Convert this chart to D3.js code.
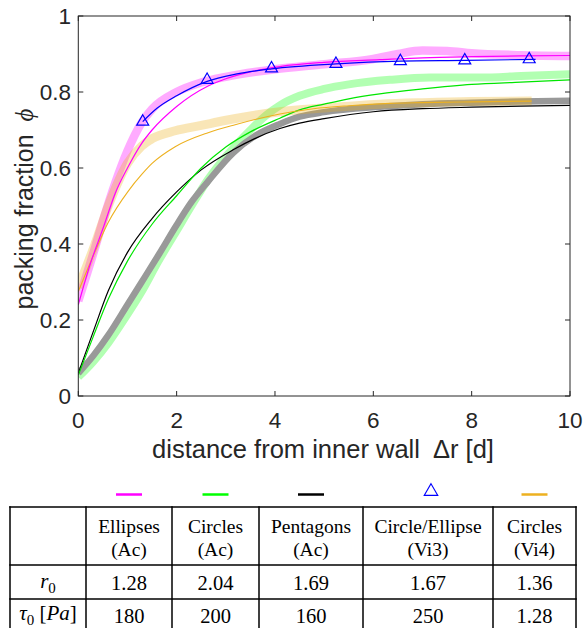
<!DOCTYPE html>
<html>
<head>
<meta charset="utf-8">
<script src="https://cdn.jsdelivr.net/npm/d3@7/dist/d3.min.js"></script>
<style>
  html, body { margin: 0; padding: 0; background: #fff; }
  svg { display: block; }
</style>
</head>
<body>
<svg id="chart" width="587" height="628"></svg>
<script>
// Axis ticks
const xTicks = [0, 2, 4, 6, 8, 10];
const yTicks = [0, 0.2, 0.4, 0.6, 0.8, 1];

// Measured profiles (wide translucent bands)
const ellipsesDataX = [0, 0.34, 0.5, 0.75, 1.0, 1.29, 1.5, 2.0, 2.5, 3.0, 4.0, 5.0, 6.0, 6.5, 7.0, 7.5, 8.0, 9.0, 10];
const ellipsesDataY = [0.25, 0.39, 0.46, 0.56, 0.645, 0.72, 0.755, 0.80, 0.825, 0.84, 0.86, 0.873, 0.887, 0.90, 0.909, 0.908, 0.902, 0.897, 0.895];

const circlesDataX = [0, 0.3, 0.61, 1.0, 1.29, 1.63, 2.0, 2.3, 2.64, 3.0, 3.5, 3.83, 4.1, 4.5, 5.0, 5.5, 6.34, 7.15, 8.17, 9.0, 10];
const circlesDataY = [0.05, 0.09, 0.14, 0.215, 0.275, 0.355, 0.435, 0.50, 0.57, 0.63, 0.70, 0.74, 0.765, 0.79, 0.808, 0.82, 0.832, 0.838, 0.838, 0.842, 0.847];

const pentagonsDataX = [0, 0.3, 0.61, 1.0, 1.29, 1.65, 2.0, 2.3, 2.64, 3.15, 3.6, 4.1, 4.5, 5.0, 6.13, 7.0, 8.0, 9.0, 10];
const pentagonsDataY = [0.06, 0.105, 0.16, 0.24, 0.30, 0.375, 0.45, 0.51, 0.565, 0.64, 0.685, 0.716, 0.735, 0.747, 0.761, 0.768, 0.772, 0.775, 0.777];

const vi4DataX = [0, 0.34, 0.61, 1.0, 1.29, 1.5, 1.97, 2.5, 2.98, 3.5, 4.1, 5.0, 6.13, 7.0, 8.0, 9.22];
const vi4DataY = [0.285, 0.40, 0.50, 0.612, 0.658, 0.677, 0.698, 0.712, 0.725, 0.737, 0.748, 0.758, 0.768, 0.772, 0.775, 0.776];

// Model fits (thin lines)
const ellipsesFitX = [0, 0.25, 0.5, 0.75, 1.0, 1.29, 1.5, 2.0, 2.64, 3.0, 3.5, 4.1, 5.0, 6.13, 7.0, 8.0, 9.0, 10];
const ellipsesFitY = [0.24, 0.35, 0.44, 0.533, 0.60, 0.665, 0.70, 0.762, 0.816, 0.835, 0.853, 0.867, 0.878, 0.885, 0.89, 0.893, 0.895, 0.896];

const circlesFitX = [0, 0.3, 0.61, 1.0, 1.5, 2.0, 2.5, 3.0, 3.5, 4.1, 4.5, 5.0, 5.5, 6.13, 7.0, 8.0, 9.0, 10];
const circlesFitY = [0.055, 0.155, 0.255, 0.355, 0.452, 0.527, 0.60, 0.655, 0.695, 0.731, 0.753, 0.768, 0.782, 0.795, 0.808, 0.82, 0.826, 0.832];

const pentagonsFitX = [0, 0.3, 0.61, 1.0, 1.5, 2.0, 2.5, 3.15, 4.1, 4.5, 5.0, 6.0, 7.0, 8.0, 9.0, 10];
const pentagonsFitY = [0.06, 0.168, 0.277, 0.378, 0.467, 0.537, 0.595, 0.648, 0.704, 0.718, 0.73, 0.748, 0.756, 0.76, 0.763, 0.765];

const vi4FitX = [0, 0.34, 0.61, 1.02, 1.29, 1.5, 1.97, 2.64, 3.19, 4.1, 4.78, 5.5, 6.34, 7.0, 8.0, 9.22];
const vi4FitY = [0.275, 0.38, 0.457, 0.54, 0.583, 0.612, 0.656, 0.693, 0.714, 0.742, 0.756, 0.764, 0.77, 0.772, 0.774, 0.776];

// Circle/Ellipse (Vi3): measured points and fitted curve
const vi3PointsX = [1.31, 2.62, 3.93, 5.24, 6.55, 7.86, 9.17];
const vi3PointsY = [0.722, 0.832, 0.862, 0.874, 0.881, 0.883, 0.886];
const vi3FitX = [1.31, 1.6, 2.0, 2.62, 3.2, 3.93, 5.24, 6.55, 7.86, 9.3];
const vi3FitY = [0.722, 0.757, 0.79, 0.828, 0.847, 0.861, 0.874, 0.881, 0.883, 0.886];

// Parameter table
const tableColumns = [["Ellipses", "(Ac)"], ["Circles", "(Ac)"], ["Pentagons", "(Ac)"], ["Circle/Ellipse", "(Vi3)"], ["Circles", "(Vi4)"]];
const r0Values = ["1.28", "2.04", "1.69", "1.67", "1.36"];
const tau0Values = ["180", "200", "160", "250", "1.28"];

const svg = d3.select("#chart");
const axisColor = "#262626";
const sans = "'Liberation Sans', Arial, Helvetica, sans-serif";
const serif = "'Liberation Serif', 'Times New Roman', serif";

const plot = { left: 78.3, right: 570, top: 16, bottom: 396 };
const x = d3.scaleLinear().domain([0, 10]).range([plot.left, plot.right]);
const y = d3.scaleLinear().domain([0, 1]).range([plot.bottom, plot.top]);

svg.append("defs").append("clipPath").attr("id", "plotClip")
  .append("rect")
  .attr("x", plot.left).attr("y", plot.top)
  .attr("width", plot.right - plot.left).attr("height", plot.bottom - plot.top);

const zip = (xs, ys) => xs.map((v, i) => [v, ys[i]]);
const line = d3.line().x(d => x(d[0])).y(d => y(d[1])).curve(d3.curveMonotoneX);

const g = svg.append("g").attr("clip-path", "url(#plotClip)");

function band(xs, ys, color, width, opacity) {
  g.append("path").datum(zip(xs, ys))
    .attr("d", line).attr("fill", "none")
    .attr("stroke", color).attr("stroke-width", width)
    .attr("stroke-opacity", opacity)
    .attr("stroke-linecap", "butt").attr("stroke-linejoin", "round");
}
function fit(xs, ys, color, width) {
  g.append("path").datum(zip(xs, ys))
    .attr("d", line).attr("fill", "none")
    .attr("stroke", color).attr("stroke-width", width);
}

// Bands
band(circlesDataX, circlesDataY, "#00ff00", 8, 0.3);
band(pentagonsDataX, pentagonsDataY, "#999999", 6.5, 1);
band(ellipsesDataX, ellipsesDataY, "#ff00ff", 8.5, 0.33);
band(vi4DataX, vi4DataY, "#edb120", 9, 0.32);

// Fits
fit(pentagonsFitX, pentagonsFitY, "#000000", 1.2);
fit(circlesFitX, circlesFitY, "#00e600", 1.2);
fit(vi4FitX, vi4FitY, "#edb120", 1.1);
fit(ellipsesFitX, ellipsesFitY, "#ff00ff", 1.2);
fit(vi3FitX, vi3FitY, "#0000ff", 1.2);

// Vi3 triangles
const tri = d3.symbol().type(d3.symbolTriangle).size(62);
svg.append("g").selectAll("path").data(zip(vi3PointsX, vi3PointsY)).join("path")
  .attr("d", tri)
  .attr("transform", d => `translate(${x(d[0])},${y(d[1])})`)
  .attr("fill", "none").attr("stroke", "#0000ff").attr("stroke-width", 1.2);

// Axes box with inward ticks
const axes = svg.append("g");
axes.append("rect")
  .attr("x", plot.left).attr("y", plot.top)
  .attr("width", plot.right - plot.left).attr("height", plot.bottom - plot.top)
  .attr("fill", "none").attr("stroke", axisColor).attr("stroke-width", 1);

const tickLen = 5;
xTicks.forEach(t => {
  axes.append("line").attr("x1", x(t)).attr("x2", x(t))
    .attr("y1", plot.bottom).attr("y2", plot.bottom - tickLen).attr("stroke", axisColor);
  axes.append("line").attr("x1", x(t)).attr("x2", x(t))
    .attr("y1", plot.top).attr("y2", plot.top + tickLen).attr("stroke", axisColor);
  axes.append("text").attr("x", x(t)).attr("y", 428)
    .attr("text-anchor", "middle").attr("font-family", sans).attr("font-size", 22.5)
    .attr("fill", axisColor).text(d3.format("~g")(t));
});
yTicks.forEach(t => {
  axes.append("line").attr("x1", plot.left).attr("x2", plot.left + tickLen)
    .attr("y1", y(t)).attr("y2", y(t)).attr("stroke", axisColor);
  axes.append("line").attr("x1", plot.right).attr("x2", plot.right - tickLen)
    .attr("y1", y(t)).attr("y2", y(t)).attr("stroke", axisColor);
  axes.append("text").attr("x", 71).attr("y", y(t) + 8)
    .attr("text-anchor", "end").attr("font-family", sans).attr("font-size", 22.5)
    .attr("fill", axisColor).text(d3.format("~g")(t));
});

// Axis titles
const xTitle = axes.append("text").attr("x", 323).attr("y", 458)
  .attr("text-anchor", "middle").attr("font-family", sans).attr("font-size", 25.5)
  .attr("fill", axisColor);
xTitle.append("tspan").text("distance from inner wall ");
xTitle.append("tspan").attr("dx", 6).text("Δr [d]");

const yTitle = axes.append("text")
  .attr("transform", "translate(33,209) rotate(-90)")
  .attr("text-anchor", "middle").attr("font-family", sans).attr("font-size", 25)
  .attr("fill", axisColor);
yTitle.append("tspan").text("packing fraction ");
yTitle.append("tspan").attr("dx", 6).attr("font-family", serif).attr("font-style", "italic").text("ϕ");

// Parameter table
const colEdges = [10, 86, 172, 259, 363, 493, 576];
const rowEdges = [507, 565, 599, 633];
const table = svg.append("g");
colEdges.forEach(cx => table.append("line")
  .attr("x1", cx).attr("x2", cx).attr("y1", rowEdges[0] - 0.75).attr("y2", rowEdges[3])
  .attr("stroke", "#000").attr("stroke-width", 1.5));
rowEdges.forEach(ry => table.append("line")
  .attr("x1", colEdges[0] - 0.75).attr("x2", colEdges[6] + 0.75).attr("y1", ry).attr("y2", ry)
  .attr("stroke", "#000").attr("stroke-width", 1.5));

const centers = colEdges.slice(0, -1).map((c, i) => (c + colEdges[i + 1]) / 2);
tableColumns.forEach((lines, i) => {
  lines.forEach((s, k) => table.append("text")
    .attr("x", centers[i + 1]).attr("y", 532.5 + k * 23)
    .attr("text-anchor", "middle").attr("font-family", serif).attr("font-size", 19.5)
    .attr("fill", "#000").text(s));
});
r0Values.forEach((v, i) => table.append("text")
  .attr("x", centers[i + 1]).attr("y", 590)
  .attr("text-anchor", "middle").attr("font-family", serif).attr("font-size", 20.5)
  .attr("fill", "#000").text(v));
tau0Values.forEach((v, i) => table.append("text")
  .attr("x", centers[i + 1]).attr("y", 623)
  .attr("text-anchor", "middle").attr("font-family", serif).attr("font-size", 20.5)
  .attr("fill", "#000").text(v));

const r0Label = table.append("text").attr("x", centers[0]).attr("y", 588)
  .attr("text-anchor", "middle").attr("font-family", serif).attr("font-size", 21).attr("fill", "#000");
r0Label.append("tspan").attr("font-style", "italic").text("r");
r0Label.append("tspan").attr("font-size", 15).attr("dy", 5).text("0");

const tauLabel = table.append("text").attr("x", centers[0]).attr("y", 620)
  .attr("text-anchor", "middle").attr("font-family", serif).attr("font-size", 21).attr("fill", "#000");
tauLabel.append("tspan").attr("font-style", "italic").text("τ");
tauLabel.append("tspan").attr("font-size", 15).attr("dy", 5).text("0");
tauLabel.append("tspan").attr("dy", -5).text(" [");
tauLabel.append("tspan").attr("font-style", "italic").text("Pa");
tauLabel.append("tspan").text("]");

// Legend keys above the table columns
const keyColors = ["#ff00ff", "#00ff00", "#000000", null, "#edb120"];
keyColors.forEach((c, i) => {
  const cx = centers[i + 1];
  if (c) {
    svg.append("line").attr("x1", cx - 13).attr("x2", cx + 13)
      .attr("y1", 494.5).attr("y2", 494.5).attr("stroke", c).attr("stroke-width", 2.5);
  } else {
    svg.append("path").attr("d", d3.symbol().type(d3.symbolTriangle).size(80))
      .attr("transform", `translate(${cx + 3},${491.5})`)
      .attr("fill", "none").attr("stroke", "#0000ff").attr("stroke-width", 1.1);
  }
});
</script>
</body>
</html>
